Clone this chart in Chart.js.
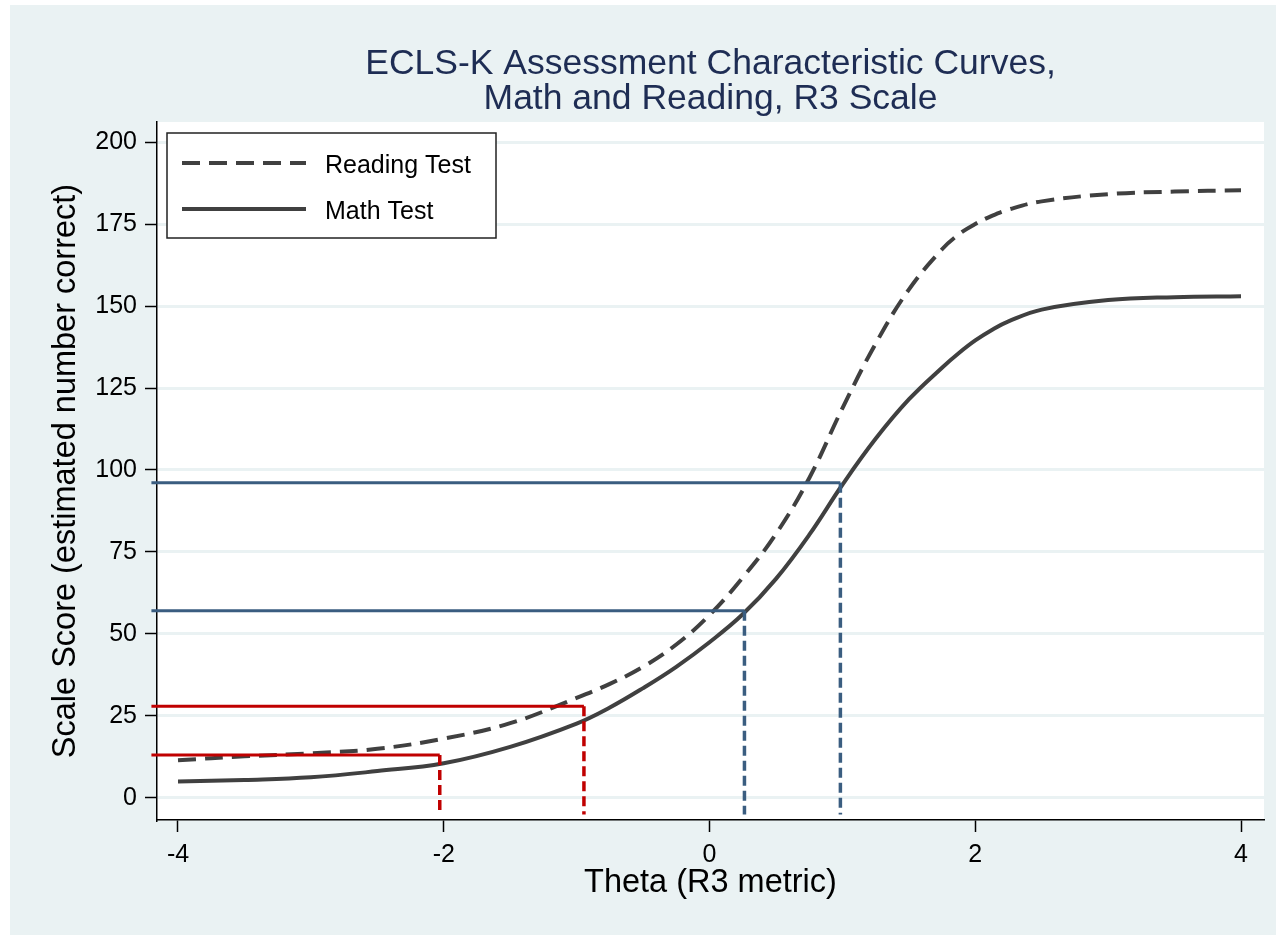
<!DOCTYPE html>
<html>
<head>
<meta charset="utf-8">
<script src="https://cdn.jsdelivr.net/npm/chart.js@4/dist/chart.umd.min.js"></script>
<style>
  html, body { margin: 0; padding: 0; background: #ffffff; }
  #wrap { width: 1276px; height: 935px; }
</style>
</head>
<body>
<div id="wrap"><canvas id="acc" width="1276" height="935"></canvas></div>
<script>
// theta values the curves were read at
const theta = [-4, -3.5, -3, -2.5, -2, -1.5, -1, -0.75, -0.5, -0.25, 0, 0.25, 0.5, 0.75,
               1, 1.25, 1.5, 1.75, 1.875, 2, 2.125, 2.25, 2.5, 3, 3.5, 4];
// scale scores
const readingScore = [11.5, 12.7, 13.6, 15.0, 18.1, 22.8, 30.5, 34.8, 40.0, 46.8, 55.8, 67.2, 80.5, 97.5,
                      118.8, 138.5, 155.0, 167.3, 171.8, 175.0, 177.5, 179.4, 181.9, 184.1, 184.9, 185.3];
const mathScore = [5.0, 5.5, 6.3, 8.2, 10.6, 15.6, 22.7, 27.6, 33.5, 40.0, 47.5, 56.0, 66.8, 80.2,
                   95.5, 109.5, 121.5, 131.2, 135.6, 139.5, 142.7, 145.3, 148.9, 151.8, 152.7, 153.0];

// drop lines: score level and the theta where it meets the curve
const refTheta = [-2.03, -0.945, 0.263, 0.985];
const refScore = [13.1, 28.0, 57.1, 96.1];
const refStart = -4.2;   // horizontal part starts just left of the axis
const refFloor = -5;     // dashed vertical part goes down to here

const xTicks = [-4, -2, 0, 2, 4];
const yTicks = [0, 25, 50, 75, 100, 125, 150, 175, 200];

const titleLines = ["ECLS-K Assessment Characteristic Curves,", "Math and Reading, R3 Scale"];
const xTitle = "Theta (R3 metric)";
const yTitle = "Scale Score (estimated number correct)";

const FONT = "'Liberation Sans', Arial, sans-serif";
const BG = "#eaf2f3";
const CURVE = "#404040";
const refColors = ["#c00000", "#c00000", "#3a5d80", "#3a5d80"];

const toPts = (xs, ys) => xs.map((x, i) => ({ x: x, y: ys[i] }));

const datasets = [];
refTheta.forEach((t, i) => {
  // solid horizontal
  datasets.push({
    label: "refH" + i,
    data: [{ x: refStart, y: refScore[i] }, { x: t, y: refScore[i] }],
    borderColor: refColors[i],
    borderWidth: 3,
    pointRadius: 0,
    clip: false,
    order: 0
  });
  // dashed vertical
  datasets.push({
    label: "refV" + i,
    data: [{ x: t, y: refScore[i] }, { x: t, y: refFloor }],
    borderColor: refColors[i],
    borderWidth: 3.5,
    borderDash: [10, 5],
    pointRadius: 0,
    clip: false,
    order: 0
  });
});
datasets.push({
  label: "Reading Test",
  data: toPts(theta, readingScore),
  borderColor: CURVE,
  borderWidth: 4,
  borderDash: [18, 9],
  pointRadius: 0,
  tension: 0.4,
  order: 1,
  inLegend: true
});
datasets.push({
  label: "Math Test",
  data: toPts(theta, mathScore),
  borderColor: CURVE,
  borderWidth: 4,
  pointRadius: 0,
  tension: 0.4,
  order: 1,
  inLegend: true
});

// light backdrop + white plot region
const backdrop = {
  id: "backdrop",
  beforeDraw(chart) {
    const { ctx, chartArea: a } = chart;
    ctx.save();
    ctx.fillStyle = "#ffffff";
    ctx.fillRect(0, 0, chart.width, chart.height);
    ctx.fillStyle = BG;
    ctx.fillRect(10, 5, chart.width - 10, chart.height - 5);
    ctx.fillStyle = "#ffffff";
    ctx.fillRect(a.left, a.top, a.right - a.left, a.bottom - a.top);
    ctx.restore();
  }
};

// boxed legend in the upper-left corner of the plot
const boxLegend = {
  id: "boxLegend",
  afterDraw(chart) {
    const { ctx, chartArea: a } = chart;
    const x0 = a.left + 10, y0 = a.top + 11, w = 329, h = 105;
    ctx.save();
    ctx.fillStyle = "#ffffff";
    ctx.fillRect(x0, y0, w, h);
    ctx.strokeStyle = "#222222";
    ctx.lineWidth = 1.5;
    ctx.strokeRect(x0, y0, w, h);
    const items = chart.data.datasets.filter(d => d.inLegend);
    items.forEach((d, i) => {
      const y = y0 + 30 + i * 46;
      ctx.beginPath();
      ctx.setLineDash(d.borderDash || []);
      ctx.strokeStyle = d.borderColor;
      ctx.lineWidth = d.borderWidth;
      ctx.moveTo(x0 + 15, y);
      ctx.lineTo(x0 + 139, y);
      ctx.stroke();
      ctx.setLineDash([]);
      ctx.fillStyle = "#000000";
      ctx.font = "25px " + FONT;
      ctx.textBaseline = "middle";
      ctx.textAlign = "left";
      ctx.fillText(d.label, x0 + 158, y + 3);
    });
    ctx.restore();
  }
};

new Chart(document.getElementById("acc").getContext("2d"), {
  type: "line",
  data: { datasets: datasets },
  options: {
    responsive: false,
    animation: false,
    layout: { padding: { left: 10, right: 12, top: 0, bottom: 0 } },
    plugins: {
      legend: { display: false },
      tooltip: { enabled: false },
      title: {
        display: true,
        text: titleLines,
        fullSize: false,
        color: "#1e2d54",
        font: { family: FONT, size: 35.5, weight: "normal", lineHeight: 1.0 },
        padding: { top: 46, bottom: 5 }
      }
    },
    scales: {
      x: {
        type: "linear",
        min: -4.158,
        max: 4.173,
        afterBuildTicks: s => { s.ticks = xTicks.map(v => ({ value: v })); },
        afterFit: s => { s.height = 115; },
        grid: { drawOnChartArea: false, tickLength: 12, tickColor: "#000000", tickWidth: 1.5 },
        border: { display: true, color: "#000000", width: 1.5 },
        ticks: { color: "#000000", padding: 8, maxRotation: 0, font: { family: FONT, size: 25 } },
        title: {
          display: true,
          text: xTitle,
          color: "#000000",
          font: { family: FONT, size: 32.5, lineHeight: 1.2 },
          padding: { top: 0, bottom: 32.5 }
        }
      },
      y: {
        type: "linear",
        min: -6.71,
        max: 206.1,
        afterBuildTicks: s => { s.ticks = yTicks.map(v => ({ value: v })); },
        afterFit: s => { s.width = 147; },
        grid: { color: BG, lineWidth: 3, tickLength: 12, tickColor: "#000000", tickWidth: 1.5 },
        border: { display: true, color: "#000000", width: 1.5 },
        ticks: { color: "#000000", padding: 8, font: { family: FONT, size: 25 } },
        title: {
          display: true,
          text: yTitle,
          color: "#000000",
          font: { family: FONT, size: 32.5, lineHeight: 1.2 },
          padding: { top: 36.5, bottom: 0 }
        }
      }
    }
  },
  plugins: [backdrop, boxLegend]
});
</script>
</body>
</html>
